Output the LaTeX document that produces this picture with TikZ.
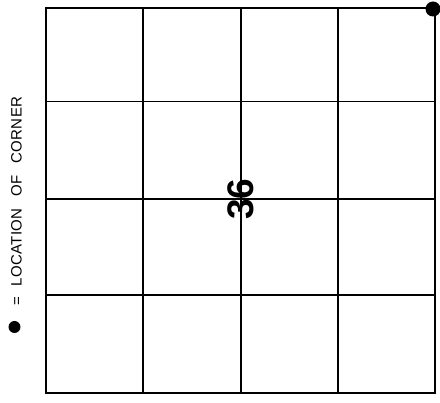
\documentclass[tikz,border=0pt]{standalone}
\usepackage{fontspec}
\setmainfont{Liberation Sans}
\begin{document}
\begin{tikzpicture}[x=1pt,y=-1pt,
  gridline/.style={line width=1.1pt,black},
  border/.style={line width=2pt,black},
  legend/.style={font=\fontsize{15}{17}\selectfont\addfontfeature{LetterSpace=2},inner sep=0pt,rotate=90,anchor=base west},
  bignum/.style={font=\fontsize{37}{40}\selectfont\bfseries,inner sep=0pt,rotate=90}]
\useasboundingbox (0,0) rectangle (440,403);
\fill[white] (0,0) rectangle (440,403);
% inner grid lines
\foreach \x in {143,241,338} \draw[gridline] (\x,8) -- (\x,393);
\foreach \y in {101.5,199,295} \draw[gridline] (46,\y) -- (435,\y);
% border
\draw[border] (46,8) rectangle (435,393);
\draw[line width=2.6pt] (435,8) -- (435,393);
% corner marker
\fill (433,9) circle (7.5);
% center number
\node[bignum] (num) at (241,199) {36};
% legend
\fill (14.5,327) circle (6);
\node[legend] (leg) at (21.5,306) {=\hspace{11pt}LOCATION\hspace{12pt}OF\hspace{12pt}CORNER};
\end{tikzpicture}
\end{document}
